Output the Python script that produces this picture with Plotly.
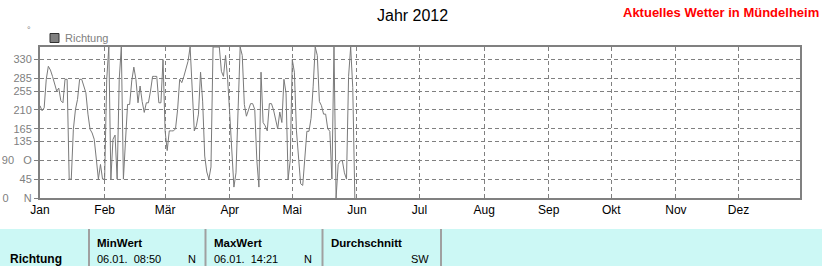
import plotly.graph_objects as go
import pandas as pd

# ---------------- data ----------------
start_date = "2012-01-01"
richtung = [
    220, 208, 215, 283, 314, 305, 290, 275, 255, 262,
    232, 227, 283, 283, 45, 45, 164, 211, 235, 283,
    283, 267, 251, 200, 164, 155, 140, 93, 45, 80,
    45, 45, 283, 360, 45, 140, 150, 45, 283, 360,
    45, 136, 223, 223, 279, 312, 283, 227, 267, 230,
    204, 227, 227, 255, 290, 290, 290, 227, 227, 330,
    160, 113, 160, 160, 160, 165, 211, 283, 275, 290,
    312, 326, 360, 239, 160, 172, 200, 300, 231, 100,
    62, 45, 74, 360, 360, 360, 360, 302, 290, 340,
    283, 200, 100, 26, 60, 200, 360, 340, 223, 195,
    210, 225, 225, 211, 90, 26, 300, 180, 172, 160,
    225, 225, 210, 184, 165, 205, 180, 283, 250, 45,
    89, 330, 300, 160, 97, 34, 30, 100, 159, 159,
    190, 265, 360, 340, 230, 220, 200, 200, 165, 159,
    45, 360, 0, 80, 89, 89, 60, 45, 290, 360,
    263, 0,
]
month_starts = ["2012-01-01", "2012-02-01", "2012-03-01", "2012-04-01",
                "2012-05-01", "2012-06-01", "2012-07-01", "2012-08-01",
                "2012-09-01", "2012-10-01", "2012-11-01", "2012-12-01"]
month_labels = ["Jan", "Feb", "Mär", "Apr", "Mai", "Jun",
                "Jul", "Aug", "Sep", "Okt", "Nov", "Dez"]
y_tickvals = [0, 45, 90, 135, 165, 210, 255, 285, 330]
y_ticktext = ["0\u00a0\u00a0\u00a0\u00a0\u00a0N", "45", "90\u00a0\u00a0\u00a0O", "135", "165",
              "210", "255", "285", "330"]
title_text = "Jahr 2012"
site_text = "Aktuelles Wetter in Mündelheim"
series_name = "Richtung"
table_headers = ["MinWert", "MaxWert", "Durchschnitt"]
table_values = ["06.01.  08:50", "06.01.  14:21", ""]
table_dirs = ["N", "N", "SW"]

dates = pd.date_range(start_date, periods=len(richtung), freq="D")

# ---------------- layout helpers ----------------
W, H = 822, 266
L, R, T, B = 40, 800, 47, 198
FONT = "Liberation Sans, Arial, sans-serif"
GRAY = "#808080"


def px(x):
    return (x - L) / (R - L)


def py(y):
    return (B - y) / (B - T)


fig = go.Figure()
fig.add_trace(go.Scatter(
    x=dates, y=richtung, mode="lines", name=series_name,
    line=dict(color="#7a7a7a", width=1), showlegend=False,
))

shapes = []
annotations = []

# bottom table band
shapes.append(dict(type="rect", xref="paper", yref="paper",
                   x0=px(0), x1=px(W), y0=py(H), y1=py(229),
                   fillcolor="#CCF8F5", line=dict(width=0), layer="below"))
for sx in [89, 205.5, 322.5, 441]:
    shapes.append(dict(type="line", xref="paper", yref="paper",
                       x0=px(sx), x1=px(sx), y0=py(229), y1=py(H),
                       line=dict(color="#A0A0A0", width=2)))

# legend square
shapes.append(dict(type="rect", xref="paper", yref="paper",
                   x0=px(50), x1=px(59), y0=py(42.5), y1=py(33.5),
                   fillcolor=GRAY, line=dict(color="#303030", width=1)))
annotations.append(dict(text=series_name, xref="paper", yref="paper",
                        x=px(63), y=py(38), xanchor="left", yanchor="middle",
                        showarrow=False, font=dict(family=FONT, size=11, color=GRAY)))

# unit symbol
annotations.append(dict(text="°", xref="paper", yref="paper",
                        x=px(28.5), y=py(30), xanchor="center", yanchor="middle",
                        showarrow=False, font=dict(family=FONT, size=9, color=GRAY)))

# title
annotations.append(dict(text=title_text, xref="paper", yref="paper",
                        x=px(412.5), y=py(15.5), xanchor="center", yanchor="middle",
                        showarrow=False, font=dict(family=FONT, size=16, color="black")))
annotations.append(dict(text="<b>" + site_text + "</b>", xref="paper", yref="paper",
                        x=px(821), y=py(13), xanchor="right", yanchor="middle",
                        showarrow=False, font=dict(family=FONT, size=13, color="#FF0000")))

# table text
annotations.append(dict(text="<b>" + series_name + "</b>", xref="paper", yref="paper",
                        x=px(8), y=py(259), xanchor="left", yanchor="middle",
                        showarrow=False, font=dict(family=FONT, size=12, color="black")))
col_left = [95, 212, 329]
col_right = [198, 314, 431]
for i in range(3):
    annotations.append(dict(text="<b>" + table_headers[i] + "</b>", xref="paper", yref="paper",
                            x=px(col_left[i]), y=py(242.5), xanchor="left", yanchor="middle",
                            showarrow=False, font=dict(family=FONT, size=11.5, color="black")))
    if table_values[i]:
        annotations.append(dict(text=table_values[i].replace("  ", "\u00a0\u00a0"),
                                xref="paper", yref="paper",
                                x=px(col_left[i]), y=py(259), xanchor="left", yanchor="middle",
                                showarrow=False, font=dict(family=FONT, size=11, color="black")))
    annotations.append(dict(text=table_dirs[i], xref="paper", yref="paper",
                            x=px(col_right[i]), y=py(259), xanchor="right", yanchor="middle",
                            showarrow=False, font=dict(family=FONT, size=11, color="black")))

fig.update_layout(
    width=W, height=H,
    margin=dict(l=L, r=W - R, t=T, b=H - B, pad=0, autoexpand=False),
    paper_bgcolor="white", plot_bgcolor="white",
    shapes=shapes, annotations=annotations,
    showlegend=False,
    xaxis=dict(
        type="date", range=["2012-01-01", "2012-12-30 12:00"],
        tickvals=month_starts, ticktext=month_labels,
        showgrid=True, gridcolor=GRAY, gridwidth=1, griddash="4px,3px",
        showline=True, mirror=True, linecolor=GRAY, linewidth=2,
        ticks="", tickfont=dict(family=FONT, size=12, color="black"),
        zeroline=False, fixedrange=True, automargin=False,
    ),
    yaxis=dict(
        range=[0, 360], tickvals=y_tickvals, ticktext=y_ticktext,
        showgrid=True, gridcolor=GRAY, gridwidth=1, griddash="4px,3px",
        showline=True, mirror=True, linecolor=GRAY, linewidth=2,
        ticks="outside", ticklen=4, tickcolor=GRAY, tickwidth=1,
        tickfont=dict(family=FONT, size=11, color=GRAY),
        zeroline=False, fixedrange=True, automargin=False,
    ),
)

fig.write_html("out.html")
